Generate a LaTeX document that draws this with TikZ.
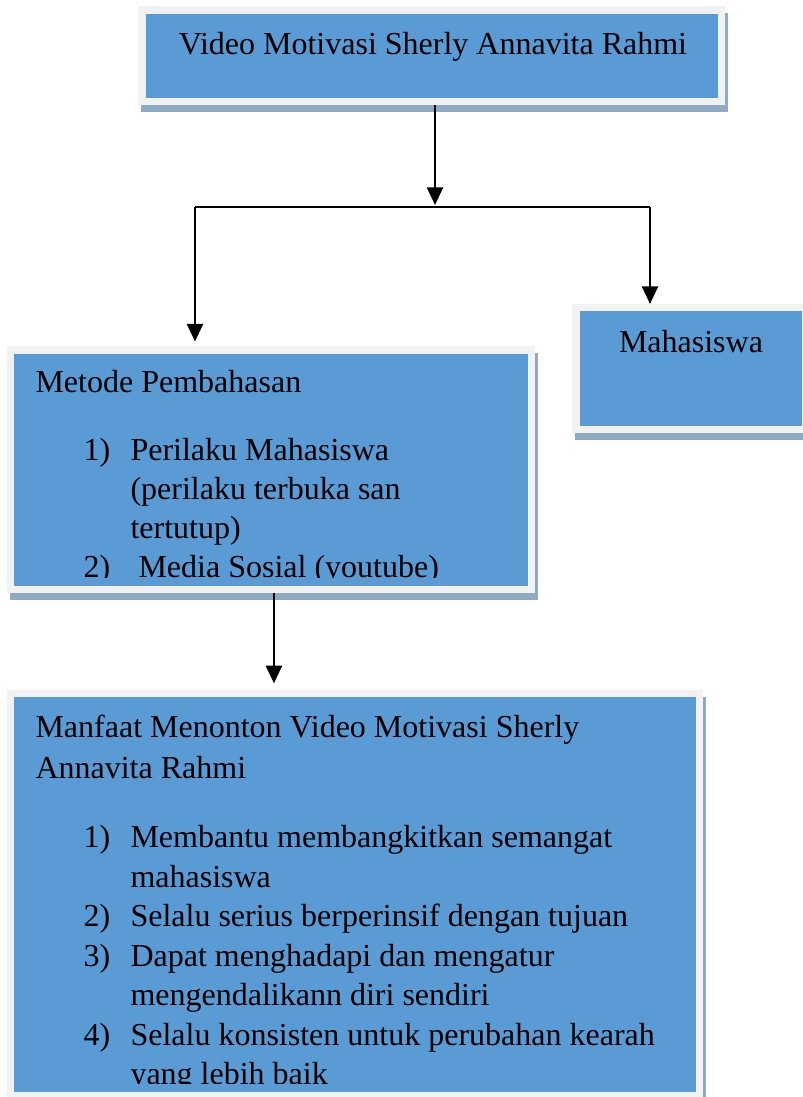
\documentclass[tikz,border=0pt]{standalone}
\usepackage{fontspec}
\setmainfont{Liberation Serif}
\usetikzlibrary{arrows.meta,shadows}

\definecolor{biru}{HTML}{5B9BD5}
\definecolor{bingkai}{HTML}{F2F2F2}
\definecolor{bayang}{HTML}{8FAAC3}

\tikzset{
  kotak/.style={rectangle, fill=biru, draw=bingkai, line width=2.8pt, inner sep=0pt,
    drop shadow={shadow xshift=1.1pt, shadow yshift=-2.6pt, fill=bayang, draw=bayang, line width=2.8pt, opacity=1}},
  teks/.style={anchor=base west, inner sep=0pt},
  panah/.style={-{Triangle[length=6.6pt,width=6pt]}, line width=0.85pt}
}

\begin{document}
\begin{tikzpicture}[x=0.375pt, y=-0.375pt, font=\fontsize{12}{14}\selectfont]
\useasboundingbox (0,0) rectangle (803,1097);

% Kotak-kotak
\node[kotak, minimum width=217.3pt, minimum height=34.3pt] (judul) at (431.5,55.5) {};
\node[kotak, minimum width=86.4pt, minimum height=45.6pt] (mhs) at (691,368.5) {};
\node[kotak, minimum width=195.2pt, minimum height=89.8pt] (metode) at (271,469.5) {};
\node[kotak, minimum width=258.2pt, minimum height=150.6pt] (manfaat) at (355,894.5) {};

% Teks judul dan mahasiswa
\node[anchor=base, inner sep=0pt] (tjudul) at (433,54.5) {Video Motivasi Sherly Annavita Rahmi};
\node[anchor=base, inner sep=0pt] (tmhs) at (691,352) {Mahasiswa};

% Teks metode pembahasan
\begin{scope}
  \clip (15,353) rectangle (527,577);
  \node[teks] (tmetode) at (35,392) {Metode Pembahasan};
  \foreach \no/\y [count=\k] in {1)/460, 2)/577} {
    \node[teks] (na\k) at (83,\y) {\no};
  }
  \foreach \t/\x/\y [count=\k] in {Perilaku Mahasiswa/130/460, {(perilaku terbuka san/130/499},
      tertutup)/130/538, Media Sosial (youtube)/138/577} {
    \node[teks] (ma\k) at (\x,\y) {\t};
  }
\end{scope}

% Teks manfaat
\begin{scope}
  \clip (15,697) rectangle (695,1083);
  \node[teks] (tmanfaat1) at (35,737) {Manfaat Menonton Video Motivasi Sherly};
  \node[teks] (tmanfaat2) at (35,778) {Annavita Rahmi};
  \foreach \no/\y [count=\k] in {1)/847, 2)/926, 3)/966, 4)/1045} {
    \node[teks] (nb\k) at (83,\y) {\no};
  }
  \foreach \t/\y [count=\k] in {Membantu membangkitkan semangat/847, mahasiswa/887,
      Selalu serius berperinsif dengan tujuan/926, Dapat menghadapi dan mengatur/966,
      mengendalikann diri sendiri/1005, Selalu konsisten untuk perubahan kearah/1045,
      yang lebih baik/1084} {
    \node[teks] (mb\k) at (130,\y) {\t};
  }
\end{scope}

% Garis penghubung
\coordinate (cab) at (435,207);
\coordinate (kiri) at (195,207);
\coordinate (kanan) at (650,207);
\draw[panah, shorten >=0.75pt] (judul.south -| cab) -- (cab);
\draw[line width=0.85pt] (kiri) -- (kanan);
\draw[panah, shorten >=1.7pt] (kiri) -- (kiri |- metode.north);
\draw[panah] (kanan) -- (kanan |- mhs.north);
\draw[panah, shorten >=2.5pt] ([xshift=1.1pt]metode.south) -- ([xshift=1.1pt]metode.south |- manfaat.north);

\end{tikzpicture}
\end{document}
